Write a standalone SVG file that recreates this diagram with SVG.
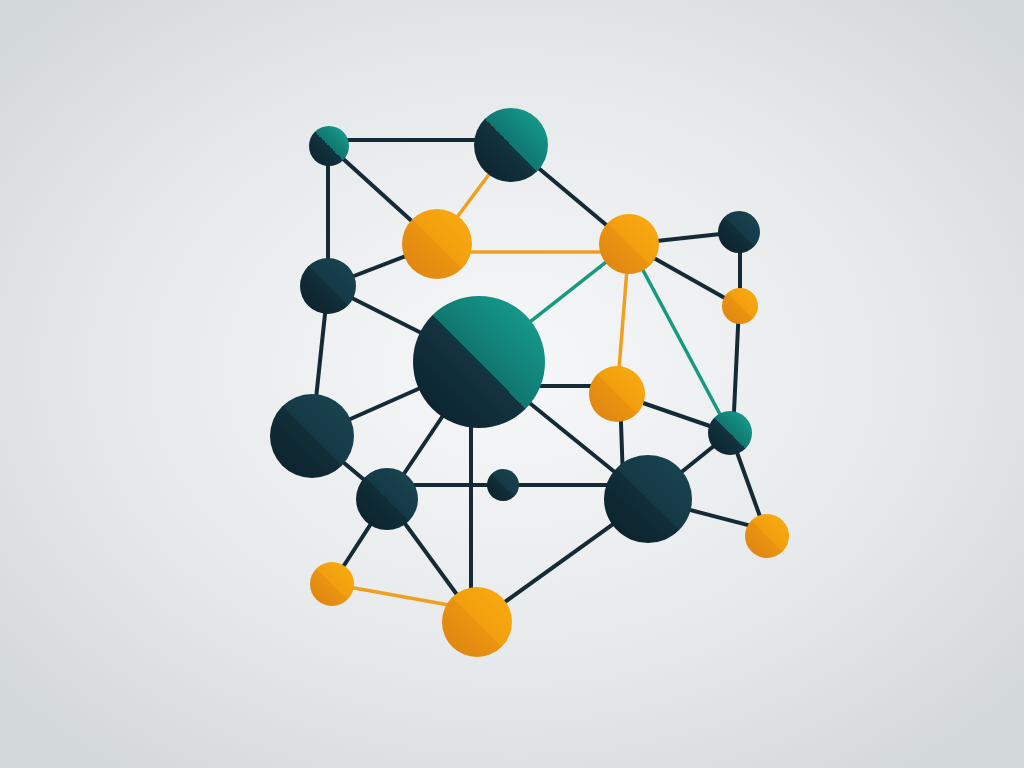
<svg xmlns="http://www.w3.org/2000/svg" width="1024" height="768" viewBox="0 0 1024 768">
<defs>
<radialGradient id="bg" cx="50%" cy="48%" r="65%">
<stop offset="0" stop-color="#f6f7f8"/>
<stop offset="0.6" stop-color="#e6e9eb"/>
<stop offset="1" stop-color="#d3d8db"/>
</radialGradient>
<linearGradient id="gTeal" x1="0" y1="1" x2="1" y2="0">
<stop offset="0" stop-color="#0b1f2b"/>
<stop offset="0.5" stop-color="#123440"/>
<stop offset="0.5" stop-color="#10766f"/>
<stop offset="1" stop-color="#17a594"/>
</linearGradient>
<linearGradient id="gDark" x1="0" y1="1" x2="1" y2="0">
<stop offset="0" stop-color="#0b2029"/>
<stop offset="0.5" stop-color="#112e39"/>
<stop offset="0.5" stop-color="#143a46"/>
<stop offset="1" stop-color="#1a4652"/>
</linearGradient>
<linearGradient id="gOrange" x1="0" y1="1" x2="1" y2="0">
<stop offset="0" stop-color="#dc8212"/>
<stop offset="0.5" stop-color="#eb9410"/>
<stop offset="0.5" stop-color="#f29e0e"/>
<stop offset="1" stop-color="#f9ad10"/>
</linearGradient>
</defs>
<style>
.e{stroke:#142a35;stroke-width:4;fill:none;stroke-linecap:round}
.o{stroke:#f0a020;stroke-width:3.5;fill:none;stroke-linecap:round}
.t{stroke:#169a80;stroke-width:3.5;fill:none;stroke-linecap:round}
.nt{fill:url(#gTeal)}
.nd{fill:url(#gDark)}
.no{fill:url(#gOrange)}
</style>
<rect width="1024" height="768" fill="url(#bg)"/>
<g id="connectors">
<line class="e" x1="329" y1="140" x2="511" y2="140"/>
<line class="e" x1="328" y1="146" x2="328" y2="286"/>
<line class="e" x1="329" y1="146" x2="437" y2="244"/>
<line class="o" x1="511" y1="145" x2="437" y2="244"/>
<line class="e" x1="511" y1="145" x2="629" y2="244"/>
<line class="o" x1="437" y1="252" x2="629" y2="252"/>
<line class="e" x1="328" y1="286" x2="437" y2="244"/>
<line class="e" x1="629" y1="244" x2="739" y2="232"/>
<line class="e" x1="629" y1="244" x2="739" y2="306"/>
<line class="t" x1="479" y1="362" x2="629" y2="244"/>
<line class="o" x1="629" y1="244" x2="617" y2="394"/>
<line class="t" x1="629" y1="244" x2="730" y2="433"/>
<line class="e" x1="740" y1="232" x2="740" y2="306"/>
<line class="e" x1="739" y1="306" x2="733" y2="433"/>
<line class="e" x1="328" y1="286" x2="479" y2="362"/>
<line class="e" x1="328" y1="286" x2="312" y2="436"/>
<line class="e" x1="312" y1="436" x2="479" y2="362"/>
<line class="e" x1="479" y1="386" x2="617" y2="386"/>
<line class="e" x1="479" y1="362" x2="387" y2="499"/>
<line class="e" x1="479" y1="362" x2="648" y2="499"/>
<line class="e" x1="471" y1="400" x2="471" y2="622"/>
<line class="e" x1="617" y1="394" x2="730" y2="433"/>
<line class="e" x1="620" y1="394" x2="623" y2="480"/>
<line class="e" x1="730" y1="433" x2="648" y2="499"/>
<line class="e" x1="730" y1="433" x2="767" y2="536"/>
<line class="e" x1="648" y1="499" x2="767" y2="530"/>
<line class="e" x1="312" y1="436" x2="387" y2="499"/>
<line class="e" x1="387" y1="485" x2="648" y2="485"/>
<line class="e" x1="387" y1="499" x2="332" y2="584"/>
<line class="e" x1="387" y1="499" x2="477" y2="622"/>
<line class="o" x1="332" y1="584" x2="477" y2="610"/>
<line class="e" x1="648" y1="499" x2="477" y2="622"/>
</g>
<g id="n1"><circle class="nt" cx="329" cy="146" r="20"/></g>
<g id="n2"><circle class="nt" cx="511" cy="145" r="37"/></g>
<g id="n3"><circle class="no" cx="437" cy="244" r="35"/></g>
<g id="n4"><circle class="no" cx="629" cy="244" r="30"/></g>
<g id="n5"><circle class="nd" cx="739" cy="232" r="21"/></g>
<g id="n6"><circle class="nd" cx="328" cy="286" r="28"/></g>
<g id="n7"><circle class="no" cx="740" cy="306" r="18"/></g>
<g id="n8"><circle class="nt" cx="479" cy="362" r="66"/></g>
<g id="n9"><circle class="no" cx="617" cy="394" r="28"/></g>
<g id="n10"><circle class="nt" cx="730" cy="433" r="22"/></g>
<g id="n11"><circle class="nd" cx="312" cy="436" r="42"/></g>
<g id="n12"><circle class="nd" cx="387" cy="499" r="31"/></g>
<g id="n13"><circle class="nd" cx="503" cy="485" r="16"/></g>
<g id="n14"><circle class="nd" cx="648" cy="499" r="44"/></g>
<g id="n15"><circle class="no" cx="767" cy="536" r="22"/></g>
<g id="n16"><circle class="no" cx="332" cy="584" r="22"/></g>
<g id="n17"><circle class="no" cx="477" cy="622" r="35"/></g>
</svg>
